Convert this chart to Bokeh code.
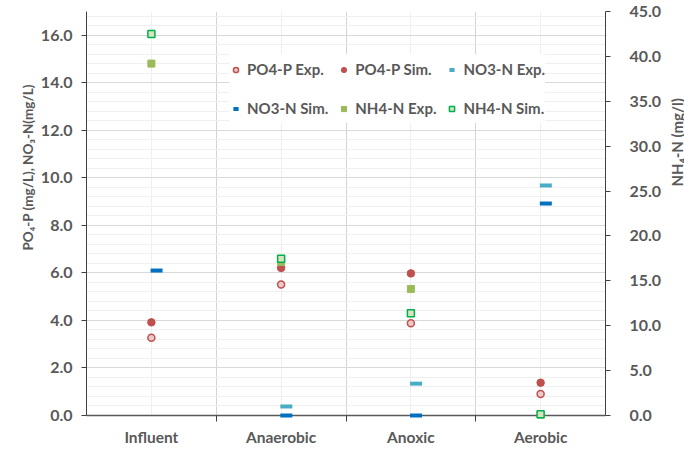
import math
from bokeh.plotting import figure
from bokeh.layouts import row
from bokeh.models import (Range1d, LinearAxis, FixedTicker, PrintfTickFormatter,
                          ColumnDataSource, Legend, LegendItem, Title)
from bokeh.core.properties import value
from bokeh.transform import dodge
from bokeh.embed import file_html
from bokeh.resources import INLINE

categories = ["Influent", "Anaerobic", "Anoxic", "Aerobic"]
nan = float("nan")
po4_exp = [3.27, 5.51, 3.88, 0.90]
po4_sim = [3.92, 6.21, 5.98, 1.38]
no3_exp = [nan, 0.38, 1.34, 9.68]
no3_sim = [6.10, 0.0, 0.0, 8.92]
nh4_exp = [39.2, 17.1, 14.1, 0.1]
nh4_sim = [42.5, 17.45, 11.4, 0.15]

left_ticks = [0, 2, 4, 6, 8, 10, 12, 14, 16]
right_ticks = [0, 5, 10, 15, 20, 25, 30, 35, 40, 45]
left_title = "PO\u2084-P (mg/L), NO\u2083-N(mg/L)"
right_title = "NH\u2084-N (mg/l)"

xs = [categories.index(c) + 0.5 for c in categories]
src = ColumnDataSource(dict(x=xs, po4_exp=po4_exp, po4_sim=po4_sim, no3_exp=no3_exp,
                            no3_sim=no3_sim, nh4_exp=nh4_exp, nh4_sim=nh4_sim))

FONT = "Lato"
GREY = "#595959"

p = figure(frame_width=519, frame_height=404, output_backend="svg", toolbar_location=None,
           x_range=Range1d(0, len(categories)), y_range=Range1d(0, 17),
           min_border_left=86, min_border_right=63, min_border_top=11, min_border_bottom=39)
p.extra_y_ranges = {"nh4": Range1d(0, 45)}
p.outline_line_color = None
p.background_fill_color = "white"

# x axis
xa = p.xaxis[0]
xa.ticker = FixedTicker(ticks=xs, minor_ticks=[1, 2, 3])
xa.major_label_overrides = {x: c for x, c in zip(xs, categories)}
xa.major_tick_out = 0
xa.major_tick_in = 0
xa.minor_tick_out = 6
xa.minor_tick_in = 0
xa.minor_tick_line_color = "#404040"
xa.axis_line_color = "#595959"
xa.axis_line_width = 1.3
xa.major_label_standoff = 6
xa.major_label_text_font = FONT
xa.major_label_text_font_style = "bold"
xa.major_label_text_font_size = "15.5px"
xa.major_label_text_color = GREY

# left axis
ya = p.yaxis[0]
lt = FixedTicker(ticks=left_ticks, minor_ticks=[round(i * 0.4, 1) for i in range(43)])
ya.ticker = lt
ya.formatter = PrintfTickFormatter(format="%.1f")
ya.major_tick_out = 5
ya.major_tick_in = 0
ya.minor_tick_line_color = None
ya.axis_line_color = "#404040"
ya.major_tick_line_color = "#404040"
ya.major_label_standoff = 9
ya.major_label_text_font = FONT
ya.major_label_text_font_style = "bold"
ya.major_label_text_font_size = "16px"
ya.major_label_text_color = GREY

# right axis
ra = LinearAxis(y_range_name="nh4", ticker=FixedTicker(ticks=right_ticks),
                formatter=PrintfTickFormatter(format="%.1f"))
ra.major_tick_out = 5
ra.major_tick_in = 0
ra.minor_tick_line_color = None
ra.axis_line_color = "#404040"
ra.major_tick_line_color = "#404040"
ra.major_label_standoff = 19
ra.major_label_text_font = FONT
ra.major_label_text_font_style = "bold"
ra.major_label_text_font_size = "16px"
ra.major_label_text_color = GREY
p.add_layout(ra, "right")

# left axis title, placed like the reference (above the vertical centre)
t_l = Title(text=left_title, align="left", offset=165, text_font=FONT,
            text_font_style="bold", text_font_size="13.5px", text_color=GREY, standoff=4)
p.add_layout(t_l, "left")

# grids
p.xgrid.ticker = FixedTicker(ticks=xs, minor_ticks=[1, 2, 3])
p.xgrid.grid_line_color = "#efefef"
p.xgrid.minor_grid_line_color = "#d4d4d4"
p.ygrid.ticker = lt
p.ygrid.grid_line_color = "#d9d9d9"
p.ygrid.minor_grid_line_color = "#f0f0f0"

r1 = p.scatter("x", "po4_exp", source=src, marker="circle", size=7, line_color="#C0504D",
               fill_color="#EBCACA", line_width=1.5)
r2 = p.scatter("x", "po4_sim", source=src, marker="circle", size=7.5, line_color="#C0504D",
               fill_color="#C0504D")
r3 = p.scatter(dodge("x", 0.04, range=p.x_range), "no3_exp", source=src, marker="dash", size=12,
               line_color="#4BACC6", line_width=4)
r4 = p.scatter(dodge("x", 0.04, range=p.x_range), "no3_sim", source=src, marker="dash", size=12,
               line_color="#0070C0", line_width=4)
r5 = p.scatter("x", "nh4_exp", source=src, marker="square", size=7, line_color="#9BBB59",
               fill_color="#9BBB59", y_range_name="nh4")
r6 = p.scatter("x", "nh4_sim", source=src, marker="square", size=7, line_color="#00B050",
               fill_color="#D7E4BD", line_width=1.5, y_range_name="nh4")
for r in (r1, r2, r3, r4, r5, r6):
    r.level = "overlay"

legend = Legend(items=[
    LegendItem(label="PO4-P Exp.", renderers=[r1]),
    LegendItem(label="PO4-P Sim.", renderers=[r2]),
    LegendItem(label="NO3-N Exp.", renderers=[r3]),
    LegendItem(label="NO3-N Sim.", renderers=[r4]),
    LegendItem(label="NH4-N Exp.", renderers=[r5]),
    LegendItem(label="NH4-N Sim.", renderers=[r6]),
], orientation="horizontal", ncols=3, location=(143, 292))
legend.label_text_font = FONT
legend.label_text_font_style = "bold"
legend.label_text_font_size = "15px"
legend.label_text_color = GREY
legend.glyph_width = 13
legend.glyph_height = 13
legend.label_height = 30
legend.label_width = 81
legend.label_standoff = 5
legend.spacing = 9
legend.padding = 5
legend.margin = 0
legend.border_line_color = None
legend.background_fill_color = "white"
legend.background_fill_alpha = 1.0
p.add_layout(legend, "center")

# narrow strip on the right carrying the NH4-N title (reads bottom to top)
side = figure(width=16, height=454, output_backend="svg", toolbar_location=None,
              x_range=Range1d(0, 1), y_range=Range1d(0, 454),
              x_axis_type=None, y_axis_type=None, min_border=0)
side.outline_line_color = None
side.grid.visible = False
side.text(x=[0.5], y=[454 - 147], text=[right_title], angle=math.pi / 2,
          text_align="center", text_baseline="middle", text_font=value(FONT),
          text_font_style="bold", text_font_size="15px", text_color=GREY)

layout = row(p, side, spacing=0)
open("out.html", "w").write(file_html(layout, INLINE))
